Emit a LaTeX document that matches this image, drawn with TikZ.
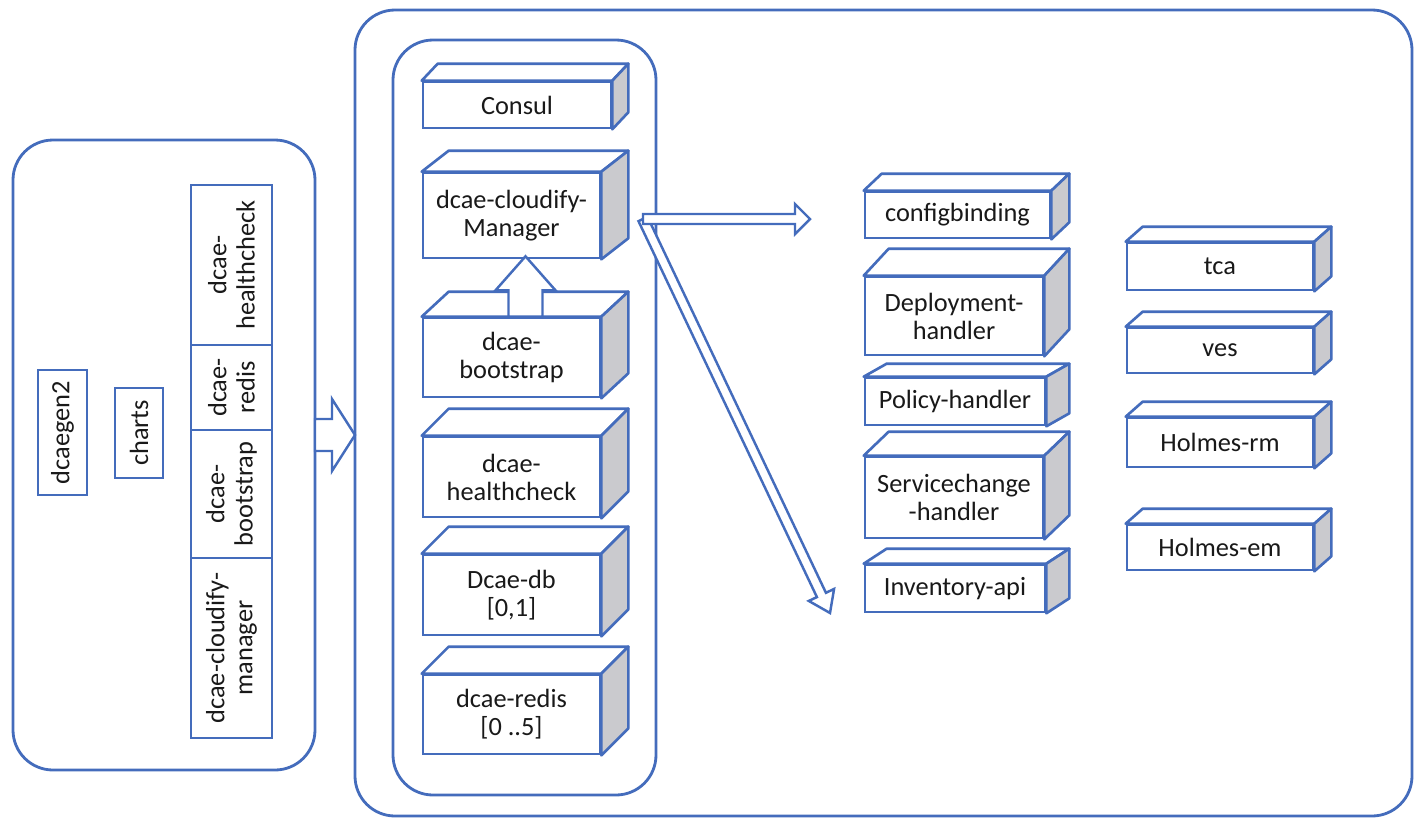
\documentclass[tikz,border=0pt]{standalone}
\usepackage{fontspec}
\setmainfont{Carlito}
\usepackage{tikz}
\usetikzlibrary{calc,positioning}
\definecolor{onapblue}{RGB}{68,108,188}
\definecolor{sidegray}{RGB}{202,202,206}
\definecolor{labelink}{RGB}{25,25,25}
\tikzset{
  panel/.style={draw=onapblue,line width=1.6pt,rounded corners=0.8cm},
  slab/.style 2 args={draw=onapblue,line width=1.5pt,fill=white,text=labelink,align=center,inner sep=0pt,minimum width=#1*0.02cm,minimum height=#2*0.02cm},
  slabtop/.style={draw=onapblue,line width=1.5pt,fill=white,line join=round},
  slabside/.style={draw=onapblue,line width=1.5pt,fill=sidegray,line join=round},
  flatbox/.style 2 args={draw=onapblue,line width=1.5pt,fill=white,text=labelink,align=center,inner sep=0pt,rotate=90,minimum width=#1*0.02cm,minimum height=#2*0.02cm},
  hollow/.style={draw=onapblue,line width=1.4pt,fill=white,line join=miter}
}
\newcommand{\slabfaces}[3]{%
  \draw[slabtop] (#1.north west) -- ($(#1.north west)+(#2,-#3)$) -- ($(#1.north east)+(#2,-#3)$) -- (#1.north east) -- cycle;
  \draw[slabside] (#1.north east) -- ($(#1.north east)+(#2,-#3)$) -- ($(#1.south east)+(#2,-#3)$) -- (#1.south east) -- cycle;
}
\newcommand{\hollowarrow}[5]{%
  \coordinate (ha) at ($(#2)!#5!(#1)$);
  \draw[hollow] ($(#1)!#3!90:(#2)$) -- ($(ha)!#3!90:(#2)$) -- ($(ha)!#4!90:(#2)$) -- (#2)
    -- ($(ha)!#4!-90:(#2)$) -- ($(ha)!#3!-90:(#2)$) -- ($(#1)!#3!-90:(#2)$) -- cycle;
}

\begin{document}
\begin{tikzpicture}[x=0.02cm,y=-0.02cm,font=\fontsize{15}{16}\selectfont]
\useasboundingbox (0,0) rectangle (1414,819);
\draw[panel] (13,140) rectangle (315,770);
\draw[panel] (355,10) rectangle (1412,816);
\draw[panel] (393,40) rectangle (656,795);

\node[flatbox={125}{49}] (gen) at (62.5,432.5) {dcaegen2};
\node[flatbox={90}{48}] (charts) at (139,433) {charts};
\node[flatbox={160}{81}] (chk) at (231.5,265) {dcae-\\healthcheck};
\node[flatbox={85}{81}] (rds) at (231.5,387.5) {dcae-\\redis};
\node[flatbox={128}{81}] (bst) at (231.5,494) {dcae-\\bootstrap};
\node[flatbox={180}{81}] (cfm) at (231.5,648) {dcae-cloudify-\\manager};

\node[slab={188}{46}] (consul) at (517,105) {Consul};
\node[slab={177}{85}] (cloud) at (511.5,215.5) {dcae-cloudify-\\Manager};
\node[slab={177}{79}] (boot) at (511.5,357.5) {dcae-\\bootstrap};
\node[slab={177}{80}] (health) at (511.5,477) {dcae-\\healthcheck};
\node[slab={177}{80}] (db) at (511.5,595) {Dcae-db\\{[0,1]}};
\node[slab={177}{79}] (redis) at (511.5,714.5) {dcae-redis\\{[0 ..5]}};

\node[slab={185}{46}] (config) at (957.5,215) {configbinding};
\node[slab={178}{78}] (deploy) at (954,316) {Deployment-\\handler};
\node[slab={180}{47}] (policy) at (955,401.5) {Policy-handler};
\node[slab={178}{81}] (svc) at (954,497.5) {Servicechange\\-handler};
\node[slab={180}{47}] (inv) at (955,588.5) {Inventory-api};

\node[slab={186}{47}] (tca) at (1220,266.5) {tca};
\node[slab={186}{45}] (ves) at (1220,350.5) {ves};
\node[slab={186}{49}] (hrm) at (1220,442.5) {Holmes-rm};
\node[slab={186}{45}] (hem) at (1220,547.5) {Holmes-em};

\foreach \n/\dx/\dy in {consul/16/17,cloud/27/21,boot/27/25,health/27/27,db/27/27,redis/27/27,
  config/18/17,deploy/25/27,policy/23/13,svc/25/24,inv/23/15,tca/17/15,ves/17/15,hrm/17/15,hem/17/15}
  {\slabfaces{\n}{\dx}{\dy}}

\coordinate (upfoot) at ($(boot.north)+(14,0)$);
\coordinate (uptip) at ($(cloud.south)+(14,-3)$);
\hollowarrow{upfoot}{uptip}{0.34cm}{0.6cm}{0.68cm}

\coordinate (helmout) at (315,435);
\coordinate (k8sin) at (355,435);
\hollowarrow{helmout}{k8sin}{0.32cm}{0.72cm}{0.46cm}

\coordinate (fork) at (643,219);
\coordinate (cfgend) at (810,219);
\coordinate (invend) at (830,613);
\hollowarrow{fork}{invend}{0.1cm}{0.28cm}{0.4cm}
\hollowarrow{fork}{cfgend}{0.1cm}{0.3cm}{0.3cm}
\end{tikzpicture}
\end{document}
